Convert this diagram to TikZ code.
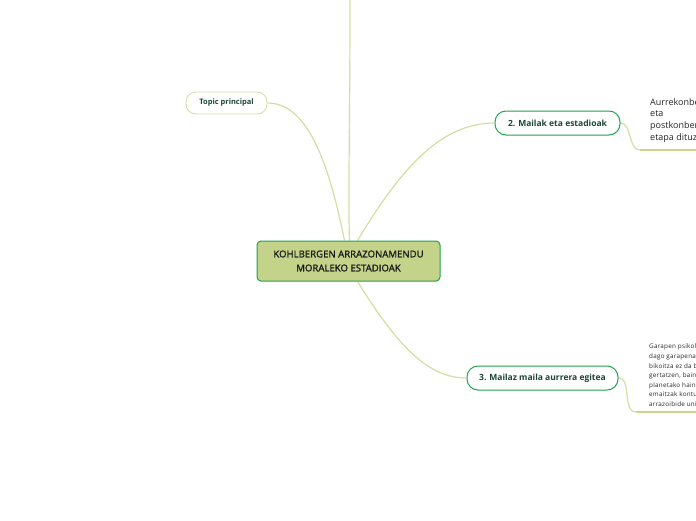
\documentclass[tikz,border=0pt]{standalone}
\usepackage{fontspec}
\setmainfont{Open Sans}
\newfontfamily\semibold[FakeBold=1.3]{Open Sans}
\newfontfamily\spacedfont[LetterSpace=4]{Open Sans}
\definecolor{linec}{HTML}{D6DDA3}
\definecolor{centerfill}{HTML}{C3D38A}
\definecolor{mainborder}{HTML}{22A24E}
\definecolor{topicborder}{HTML}{D9DEAD}
\definecolor{darkgreen}{HTML}{1C4535}
\definecolor{undercol}{HTML}{C9D68E}
\pgfdeclarelayer{bg}
\pgfsetlayers{bg,main}
\begin{document}
\begin{tikzpicture}[x=1pt,y=-1pt,
  conn/.style={draw=linec,line width=1.2pt},
  centerbox/.style={draw=mainborder,fill=centerfill,line width=1pt,rounded corners=4pt,
    minimum width=183pt,minimum height=40pt,inner sep=0pt,align=center,
    font=\fontsize{9.6}{14}\selectfont\semibold,text=black!90},
  subbox/.style={draw=mainborder,fill=white,line width=1pt,rounded corners=11pt,
    minimum height=24pt,inner sep=0pt,font=\fontsize{8.5}{10}\selectfont\bfseries,text=darkgreen},
  topicbox/.style={draw=topicborder,fill=white,line width=0.9pt,rounded corners=10pt,
    minimum height=22pt,inner sep=0pt,font=\fontsize{7.5}{9}\selectfont\bfseries,text=darkgreen},
  leaftext/.style={anchor=north west,inner sep=0pt,align=left,text=black!85},
  underl/.style={draw=undercol,line width=1.6pt}]
\useasboundingbox (0,0) rectangle (696,520);
\clip (0,0) rectangle (696,520);
\begin{pgfonlayer}{bg}
\fill[white] (0,0) rectangle (696,520);
\end{pgfonlayer}
\coordinate (topend) at (350,0);
\coordinate (u2a) at (640,150);
\coordinate (u2b) at (700,150);
\coordinate (u3a) at (636,412);
\coordinate (u3b) at (700,412);
\node[centerbox] (center) at (348.5,261) {KOHLBERGEN ARRAZONAMENDU\\MORALEKO ESTADIOAK};
\node[topicbox,minimum width=81pt] (topic) at (226.5,103) {Topic principal};
\node[subbox,minimum width=125pt] (mailak) at (557.5,123) {2. Mailak eta estadioak};
\node[subbox,minimum width=151pt] (mailaz) at (542.5,378) {3. Mailaz maila aurrera egitea};
\node[leaftext,font=\fontsize{9}{11.8}\selectfont] (leaf2) at (650,98)
  {Aurrekonbentzionala,\\eta\\postkonbentzionala\\etapa dituzte.};
\node[leaftext,font=\fontsize{6.3}{9.6}\selectfont\spacedfont] (leaf3) at (649,344)
  {Garapen psikologikoa\\dago garapenaren\\bikoitza ez da beti\\gertatzen, baina\\planetako hainbat\\emaitzak kontuan\\arrazoibide unibertsala};
\begin{pgfonlayer}{bg}
\path[conn] (topend) .. controls (350,120) and (348,200) .. ([xshift=1pt]center.north);
\path[conn] ([xshift=-4pt]center.north) .. controls (330,170) and (310,103) .. (topic.east);
\path[conn] ([xshift=9pt]center.north) .. controls (400,170) and (440,123) .. (mailak.west);
\path[conn] ([xshift=9pt]center.south) .. controls (400,350) and (430,378) .. (mailaz.west);
\path[conn] (mailak.east) .. controls (632,123) and (628,150) .. (u2a);
\path[underl] (u2a) -- (u2b);
\path[conn] (mailaz.east) .. controls (632,378) and (622,412) .. (u3a);
\path[underl] (u3a) -- (u3b);
\end{pgfonlayer}
\end{tikzpicture}
\end{document}
